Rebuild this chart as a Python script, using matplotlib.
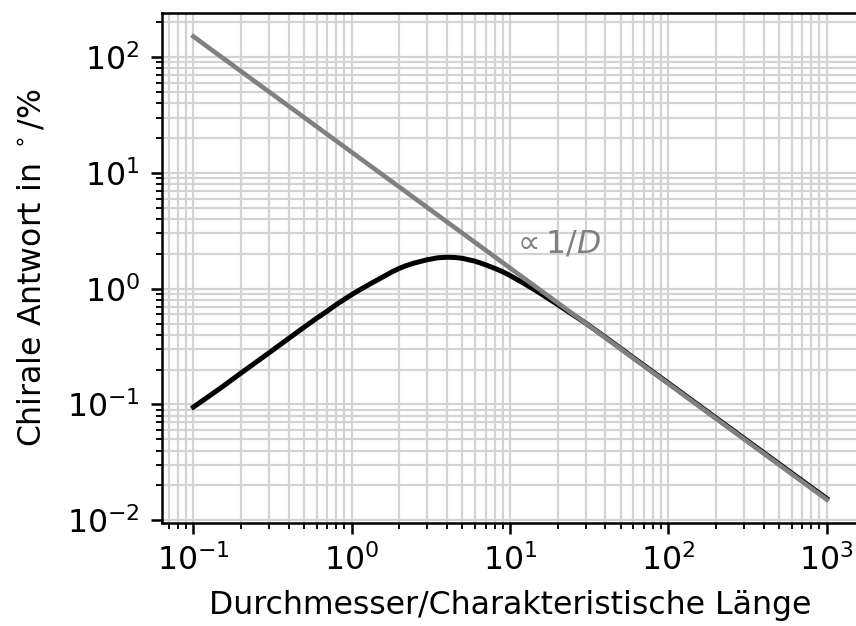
import numpy as np
import matplotlib
matplotlib.use("Agg")
import matplotlib.pyplot as plt

# Werte
durchmesser = [0.1, 0.12, 0.15, 0.2, 0.25, 0.3, 0.4, 0.5, 0.6, 0.7, 0.8, 1,
               1.2, 1.5, 1.8, 2, 2.2, 2.5, 3, 3.5, 4, 4.5, 5, 6, 7, 8, 9, 10,
               12, 15, 20, 25, 30, 40, 50, 70, 100, 200, 500, 1000]
antwort = [0.095, 0.113, 0.14, 0.187, 0.233, 0.279, 0.372, 0.465, 0.555, 0.64,
           0.73, 0.89, 1.03, 1.22, 1.40, 1.50, 1.58, 1.67, 1.78, 1.85, 1.87,
           1.86, 1.83, 1.73, 1.61, 1.50, 1.40, 1.30, 1.13, 0.94, 0.73, 0.595,
           0.505, 0.381, 0.305, 0.218, 0.153, 0.0765, 0.0307, 0.0154]
d_asym = [0.1, 1000]
asym = [151, 0.0151]

s = 2.27  # Skalierung gegenüber Standardgrößen
plt.rcParams.update({
    "font.size": 10 * s,
    "axes.linewidth": 0.8 * s,
    "xtick.major.size": 3.5 * s, "ytick.major.size": 3.5 * s,
    "xtick.major.width": 0.8 * s, "ytick.major.width": 0.8 * s,
    "xtick.minor.size": 2 * s, "ytick.minor.size": 2 * s,
    "xtick.minor.width": 0.6 * s, "ytick.minor.width": 0.6 * s,
    "xtick.major.pad": 3.5 * s, "ytick.major.pad": 3.5 * s,
    "axes.labelpad": 4 * s,
})

fig = plt.figure(figsize=(8.56, 6.26), dpi=100)
ax = fig.add_axes([161.7 / 856, (626 - 522.7) / 626, (858.4 - 161.7) / 856, (522.7 - 13.3) / 626])

ax.plot(durchmesser, antwort, color="black", lw=3.6, zorder=3)
ax.plot(d_asym, asym, color="gray", lw=3.3, zorder=4)
ax.set_xscale("log")
ax.set_yscale("log")
ax.grid(True, which="both", color="#d3d3d3", lw=1.6)
ax.set_axisbelow(True)
ax.spines["right"].set_visible(False)

ax.text(10.2, 2.06, r"$\propto 1/D$", color="gray", ha="left", va="baseline")

ax.set_xlabel("Durchmesser/Charakteristische Länge")
ax.set_ylabel(r"Chirale Antwort in $^\circ$/%", labelpad=14)

fig.savefig("out.png", dpi=100)
